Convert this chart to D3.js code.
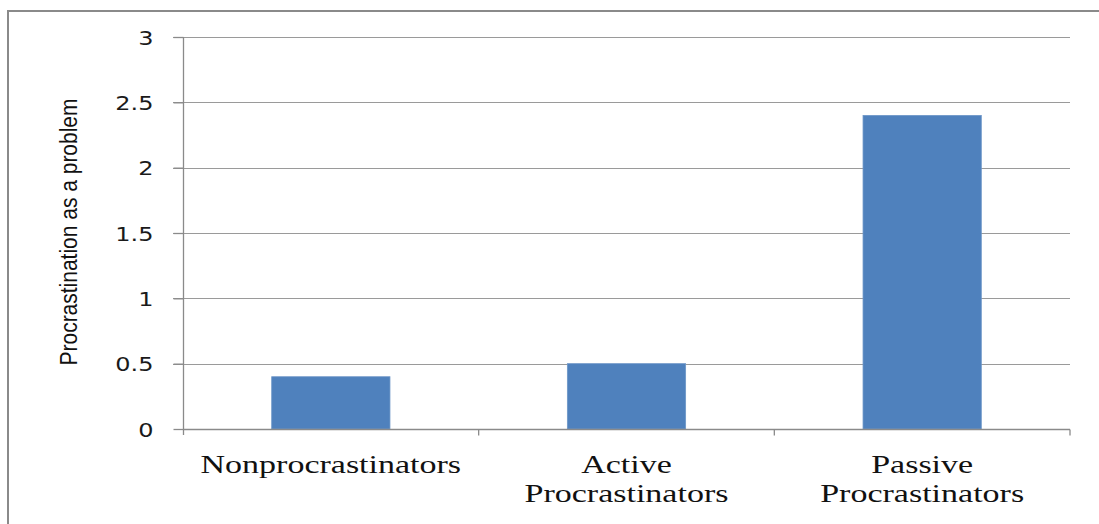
<!DOCTYPE html>
<html><head><meta charset="utf-8">
<script src="https://cdn.jsdelivr.net/npm/d3@7"></script>
<style>body{margin:0;background:#fff}</style>
</head><body>
<svg id="c" width="1099" height="524"></svg>
<script>
const categories = ["Nonprocrastinators", "Active\nProcrastinators", "Passive\nProcrastinators"];
const values = [0.4, 0.5, 2.4];
const yTicks = [0, 0.5, 1, 1.5, 2, 2.5, 3];
const yTickLabels = ["0", "0.5", "1", "1.5", "2", "2.5", "3"];
const yTitle = "Procrastination as a problem";

const svg = d3.select("#c");
const W = 1099, H = 524;
const m = {left: 183, right: 1070, top: 37, bottom: 429};

// frame
svg.append("path").attr("d", `M8,${H} L8,11 L${W},11`).attr("fill","none")
  .attr("stroke","#8a8a8a").attr("stroke-width",2);

const x = d3.scaleBand().domain(categories).range([m.left, m.right]).paddingInner(0).paddingOuter(0);
const y = d3.scaleLinear().domain([0, 3]).range([m.bottom, m.top]);

// gridlines
svg.append("g").selectAll("line").data(yTicks.filter(d => d > 0)).join("line")
  .attr("x1", m.left - 10).attr("x2", m.right)
  .attr("y1", d => Math.round(y(d)) + 0.5).attr("y2", d => Math.round(y(d)) + 0.5)
  .attr("stroke", "#9a9a9a").attr("stroke-width", 1.2);

// bars
const bw = x.bandwidth() * 0.4;
svg.append("g").selectAll("rect").data(values).join("rect")
  .attr("x", (d, i) => x(categories[i]) + (x.bandwidth() - bw) / 2)
  .attr("width", bw)
  .attr("y", d => y(d))
  .attr("height", d => y(0) - y(d))
  .attr("fill", "#4f81bd").attr("stroke", "#6d96c8").attr("stroke-width", 0.8);

// y axis
const yAxis = d3.axisLeft(y).tickValues(yTicks).tickFormat((d, i) => yTickLabels[i]).tickSize(10).tickPadding(20);
const gy = svg.append("g").attr("transform", `translate(${m.left + 0.5},0)`).call(yAxis);
gy.select(".domain").attr("d", `M0,${m.top} V${m.bottom + 6}`).attr("stroke", "#8a8a8a").attr("stroke-width", 1.3);
gy.selectAll(".tick line").attr("stroke", "#8a8a8a").attr("stroke-width", 1.3);
gy.selectAll(".tick text").attr("font-family", "DejaVu Sans, Verdana, sans-serif")
  .attr("font-size", 20).attr("fill", "#1a1a1a").attr("dy", "0.36em")
  .each(function() {
    const n = this; const w = n.getComputedTextLength();
    d3.select(n).attr("textLength", w * 1.2).attr("lengthAdjust", "spacingAndGlyphs");
  });

// x axis
const gx = svg.append("g").attr("transform", `translate(0,${m.bottom + 0.5})`);
gx.append("line").attr("x1", m.left).attr("x2", m.right).attr("stroke", "#8a8a8a").attr("stroke-width", 1.3);
const boundaries = categories.map(c => x(c) + x.bandwidth());
gx.selectAll("line.tk").data(boundaries).join("line").attr("class", "tk")
  .attr("x1", d => d).attr("x2", d => d).attr("y1", 0).attr("y2", 6)
  .attr("stroke", "#8a8a8a").attr("stroke-width", 1.3);

// category labels
categories.forEach(c => {
  const lines = c.split("\n");
  const cx = x(c) + x.bandwidth() / 2;
  lines.forEach((ln, j) => {
    const t = svg.append("text").attr("x", cx).attr("y", 473 + j * 29)
      .attr("text-anchor", "middle").attr("font-family", "Liberation Serif, Times New Roman, serif")
      .attr("font-size", 25).attr("fill", "#111").text(ln);
    const w = t.node().getComputedTextLength();
    t.attr("textLength", w * 1.36).attr("lengthAdjust", "spacingAndGlyphs");
  });
});

// y title
const yt = svg.append("text").attr("transform", "translate(77,232) rotate(-90)")
  .attr("text-anchor", "middle").attr("font-family", "Liberation Sans Narrow, Liberation Sans, Arial, sans-serif")
  .attr("font-size", 23).attr("fill", "#111").text(yTitle);
yt.attr("textLength", 267).attr("lengthAdjust", "spacingAndGlyphs");
</script>
</body></html>
